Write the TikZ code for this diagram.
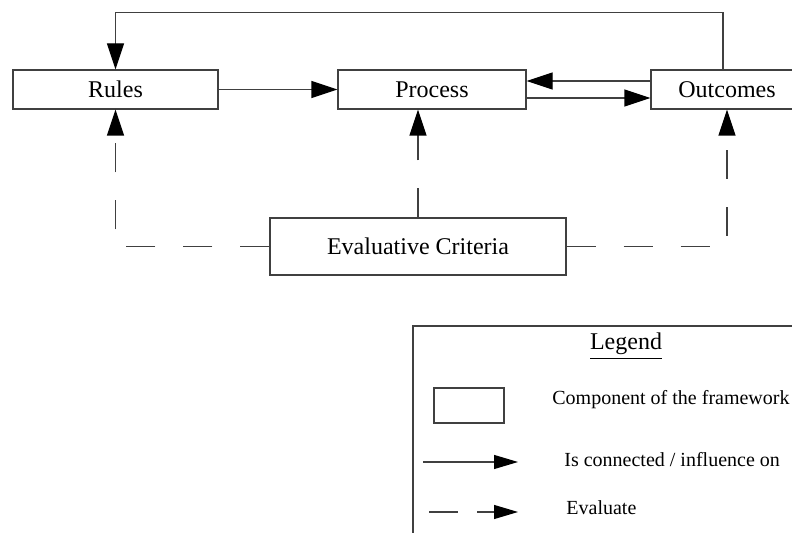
\documentclass[tikz,border=0pt]{standalone}
\usepackage{fontspec}
\setmainfont{Liberation Serif}
\usetikzlibrary{arrows.meta}

\tikzset{
	comp/.style={draw=black!75, line width=0.6pt, inner sep=0pt, font=\fontsize{12}{14}\selectfont},
	link/.style={draw=black!75, line width=0.6pt, -{Triangle[length=13pt,width=8.5pt,color=black]}},
	evallink/.style={link, dash pattern=on 14.5pt off 14pt},
	keylink/.style={draw=black!75, line width=0.6pt, -{Triangle[length=12pt,width=7pt,color=black]}},
	keytext/.style={anchor=base west, inner sep=0pt, font=\fontsize{10}{12}\selectfont}
}

\begin{document}
	\begin{tikzpicture}[x=0.5pt, y=-0.5pt]
		\path[use as bounding box, clip] (0,0) rectangle (792,533);

		\node[comp, minimum width=102.5pt, minimum height=19.5pt] (rules) at (115.5,89.5) {Rules};
		\node[comp, minimum width=94pt, minimum height=19.5pt] (process) at (432,89.5) {Process};
		\node[comp, minimum width=76pt, minimum height=19.5pt] (outcomes) at (727,89.5) {Outcomes};
		\node[comp, minimum width=148pt, minimum height=28.5pt] (criteria) at (418,246.5) {Evaluative Criteria};

		\draw[link] (rules.east) -- (process.west);
		\draw[link] ([yshift=4.25pt]outcomes.west) -- ([yshift=4.25pt]process.east);
		\draw[link] ([yshift=-4.25pt]process.east) -- ([yshift=-4.25pt]outcomes.west);
		\draw[link] ([xshift=-2pt]outcomes.north) -- ++(0,-57) -| (rules.north);

		\draw[evallink] (criteria.west) -| (rules.south);
		\draw[evallink] (criteria.north) -- (criteria.north |- process.south);
		\draw[evallink] (criteria.east) -| (outcomes.south);

		% legend
		\draw[black!75, line width=0.6pt] (413,326) rectangle (810,550);
		\node[anchor=base, inner sep=0pt, font=\fontsize{12}{14}\selectfont] (legend) at (626,350) {\underline{Legend}};

		\node[comp, minimum width=35pt, minimum height=17.5pt] (compkey) at (469,405.5) {};
		\node[keytext] (comptext) at (552,405) {Component of the framework};

		\coordinate (linka) at (423,462);
		\coordinate (linkb) at (518,462);
		\draw[keylink] (linka) -- (linkb);
		\node[keytext] (linktext) at (564,467) {Is connected / influence on};

		\coordinate (evala) at (429,512);
		\coordinate (evalb) at (518,512);
		\draw[keylink, dash pattern=on 14.5pt off 9.5pt] (evala) -- (evalb);
		\node[keytext] (evaltext) at (566,515) {Evaluate};
	\end{tikzpicture}
\end{document}
